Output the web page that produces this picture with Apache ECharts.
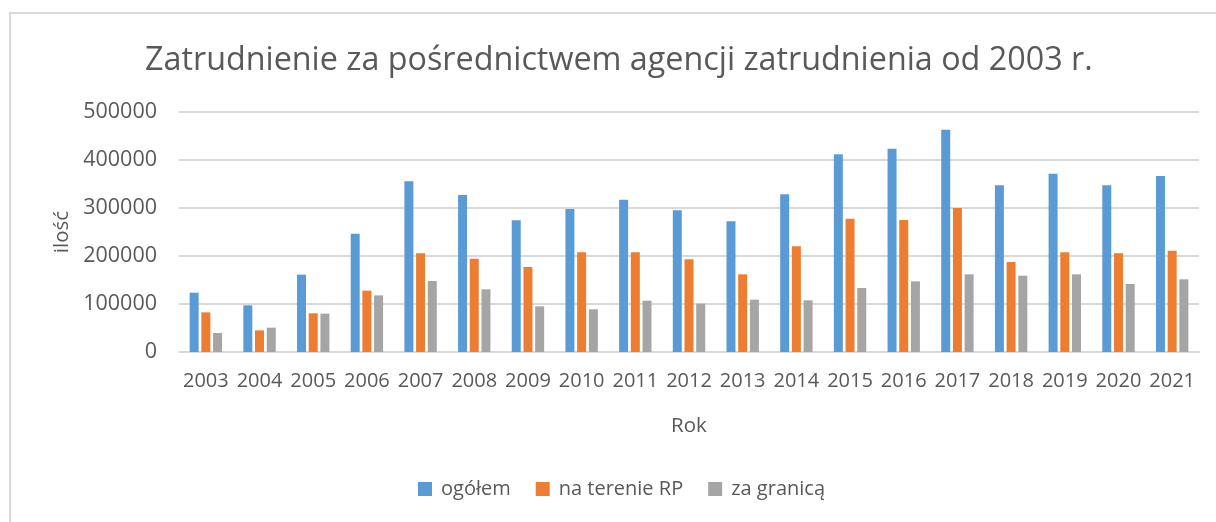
<!DOCTYPE html>
<html>
<head>
<meta charset="utf-8">
<script src="https://cdn.jsdelivr.net/npm/echarts@6/dist/echarts.min.js"></script>
<style>
    html, body {
        margin: 0;
        padding: 0;
        background: #fff;
        overflow: hidden;
    }

    #chart {
        width: 1216px;
        height: 522px;
    }
</style>
</head>
<body>
<div id="chart"></div>
<script>
    // dane
    var years = ['2003', '2004', '2005', '2006', '2007', '2008', '2009', '2010', '2011', '2012',
        '2013', '2014', '2015', '2016', '2017', '2018', '2019', '2020', '2021'];
    var ogolem = [123600, 97200, 161100, 246500, 355600, 327100, 274300, 297900, 317400, 295100,
        272200, 328500, 411800, 423600, 463200, 347200, 371500, 347200, 366700];
    var naTerenieRP = [82600, 45100, 80600, 127800, 205600, 194400, 177100, 207600, 207600, 193100,
        161800, 220100, 277800, 275000, 300000, 187500, 207600, 205600, 211100];
    var zaGranica = [39600, 50700, 79900, 118000, 147900, 130600, 95100, 88900, 106900, 100700,
        109000, 107600, 133300, 147200, 161800, 159000, 161800, 141700, 151400];
    var yTicks = [0, 100000, 200000, 300000, 400000, 500000];

    var textColor = '#595959';
    var font = 'Open Sans';

    var chart = echarts.init(document.getElementById('chart'));

    var option = {
        color: ['#5B9BD5', '#ED7D31', '#A5A5A5'],
        animation: false,
        textStyle: {fontFamily: font},
        graphic: [{
            type: 'rect',
            shape: {x: 10, y: 13, width: 1240, height: 540},
            style: {fill: 'none', stroke: '#d9d9d9', lineWidth: 2},
            silent: true
        }],
        title: {
            text: 'Zatrudnienie za pośrednictwem agencji zatrudnienia od 2003 r.',
            left: 140,
            top: 40,
            textStyle: {
                color: textColor,
                fontSize: 32.3,
                fontWeight: 'normal',
                fontFamily: font
            }
        },
        legend: {
            data: ['ogółem', 'na terenie RP', 'za granicą'],
            bottom: 18,
            left: 413,
            itemWidth: 14,
            itemHeight: 14,
            itemGap: 25,
            icon: 'rect',
            textStyle: {color: textColor, fontSize: 20, fontFamily: font, padding: [0, 0, 0, 4]}
        },
        grid: {
            left: 179,
            right: 17,
            top: 112,
            bottom: 170,
            containLabel: false
        },
        xAxis: {
            type: 'category',
            data: years,
            name: 'Rok',
            nameLocation: 'middle',
            nameGap: 64,
            nameTextStyle: {color: textColor, fontSize: 20.5, fontFamily: font},
            axisTick: {show: false},
            axisLine: {lineStyle: {color: '#d9d9d9', width: 2}},
            axisLabel: {color: textColor, fontSize: 20, margin: 19, interval: 0, fontFamily: font}
        },
        yAxis: {
            type: 'value',
            min: yTicks[0],
            max: yTicks[yTicks.length - 1],
            interval: 100000,
            name: 'ilość',
            nameLocation: 'middle',
            nameGap: 106,
            nameRotate: 90,
            nameTextStyle: {color: textColor, fontSize: 20.5, fontFamily: font},
            axisLine: {show: false},
            axisTick: {show: false},
            splitLine: {lineStyle: {color: '#d9d9d9', width: 2}},
            axisLabel: {
                color: textColor,
                fontSize: 21.5,
                margin: 22,
                fontFamily: font,
                formatter: function (v) {
                    return String(v);
                }
            }
        },
        series: [
            {name: 'ogółem', type: 'bar', barWidth: 9, barGap: '30%', data: ogolem},
            {name: 'na terenie RP', type: 'bar', barWidth: 9, barGap: '30%', data: naTerenieRP},
            {name: 'za granicą', type: 'bar', barWidth: 9, barGap: '30%', data: zaGranica}
        ]
    };

    chart.setOption(option);
</script>
</body>
</html>
